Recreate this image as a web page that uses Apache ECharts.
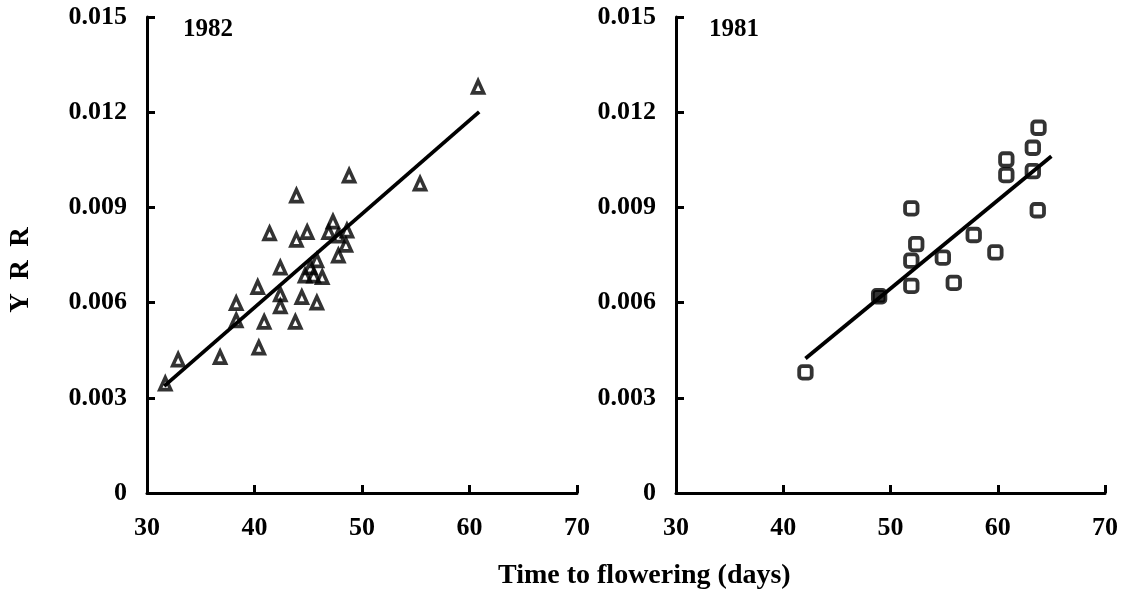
<!DOCTYPE html>
<html>
<head>
<meta charset="utf-8">
<script src="https://cdn.jsdelivr.net/npm/echarts@6/dist/echarts.min.js"></script>
<style>
html,body{margin:0;padding:0;background:#fff;}
#chart{width:1121px;height:590px;}
</style>
</head>
<body>
<div id="chart"></div>
<script>
// ---- Data ----
var panelTitles = ['1982', '1981'];
var yTickLabels = ['0', '0.003', '0.006', '0.009', '0.012', '0.015'];
var xTickLabels = ['30', '40', '50', '60', '70'];
var xAxisTitle = 'Time to flowering (days)';
var yAxisTitle = 'Y  R  R';

// 1982 (triangles)
var days1982 = [31.7, 32.9, 36.8, 40.4, 38.3, 38.3, 40.9, 43.8, 40.3, 42.4, 42.4, 42.4, 44.4, 45.8, 41.4, 43.9, 43.9, 44.9, 44.7, 45.5, 45.8, 46.3, 45.2, 46.9, 47.3, 47.8, 48.6, 48.5, 47.8, 48.8, 55.4, 60.8];
var yrr1982  = [0.00345, 0.0042, 0.00428, 0.00458, 0.00598, 0.00544, 0.00539, 0.00539, 0.00649, 0.00626, 0.00588, 0.0071, 0.00617, 0.006, 0.00818, 0.00937, 0.00798, 0.00822, 0.00685, 0.00685, 0.00733, 0.0068, 0.00711, 0.00822, 0.00855, 0.00811, 0.00827, 0.00782, 0.00748, 0.01, 0.00975, 0.0128];
var fit1982X = [31.6, 60.9];
var fit1982Y = [0.00337, 0.01201];

// 1981 (squares)
var days1981 = [42.07, 48.94, 51.94, 51.94, 52.4, 51.94, 54.88, 55.9, 57.76, 59.78, 60.8, 60.8, 63.27, 63.27, 63.8, 63.73];
var yrr1981  = [0.0038, 0.0062, 0.00653, 0.00732, 0.00784, 0.00897, 0.00742, 0.00662, 0.00813, 0.00758, 0.01051, 0.01002, 0.01088, 0.01014, 0.01151, 0.00891];
var filled1981Index = 1;
var fit1981X = [42.07, 65.0];
var fit1981Y = [0.00424, 0.01061];

// ---- Build ----
var FONT = '"Liberation Serif", "Times New Roman", serif';
var INK = '#000';

function pairs(xs, ys) { return xs.map(function (x, i) { return [x, ys[i]]; }); }

function yLabel(v) {
  var idx = Math.round(v / 0.003);
  return yTickLabels[idx] !== undefined ? yTickLabels[idx] : '';
}
function xLabel(v) {
  var idx = Math.round((v - 30) / 10);
  return xTickLabels[idx] !== undefined ? xTickLabels[idx] : '';
}

function makeX(gi) {
  return {
    type: 'value', gridIndex: gi, min: 30, max: 70, interval: 10,
    axisLine: { show: true, onZero: false, lineStyle: { color: INK, width: 3 } },
    axisTick: { show: true, inside: true, length: 8, lineStyle: { color: INK, width: 3 } },
    axisLabel: { margin: 22, color: INK, fontFamily: FONT, fontWeight: 'bold', fontSize: 26, formatter: xLabel },
    splitLine: { show: false }
  };
}
function makeY(gi) {
  return {
    type: 'value', gridIndex: gi, min: 0, max: 0.015, interval: 0.003,
    axisLine: { show: true, onZero: false, lineStyle: { color: INK, width: 3 } },
    axisTick: { show: true, inside: true, length: 8, lineStyle: { color: INK, width: 3 } },
    axisLabel: { margin: 20, color: INK, fontFamily: FONT, fontWeight: 'bold', fontSize: 26, formatter: yLabel },
    splitLine: { show: false }
  };
}

var sq81 = pairs(days1981, yrr1981).map(function (p, i) {
  return i === filled1981Index ? { value: p, itemStyle: { color: INK } } : { value: p };
});

var chart = echarts.init(document.getElementById('chart'), null, { renderer: 'canvas' });
chart.setOption({
  backgroundColor: '#fff',
  animation: false,
  grid: [
    { left: 147, top: 17, width: 430, height: 476 },
    { left: 676, top: 17, width: 431, height: 476 }
  ],
  xAxis: [makeX(0), makeX(1)],
  yAxis: [makeY(0), makeY(1)],
  series: [
    {
      type: 'line', xAxisIndex: 0, yAxisIndex: 0, data: pairs(fit1982X, fit1982Y),
      symbol: 'none', lineStyle: { color: INK, width: 3.8 }, z: 3
    },
    {
      type: 'scatter', xAxisIndex: 0, yAxisIndex: 0, data: pairs(days1982, yrr1982),
      symbol: 'triangle', symbolSize: [11, 12],
      itemStyle: { color: 'rgba(0,0,0,0)', borderColor: INK, borderWidth: 3.6 }, z: 4
    },
    {
      type: 'line', xAxisIndex: 1, yAxisIndex: 1, data: pairs(fit1981X, fit1981Y),
      symbol: 'none', lineStyle: { color: INK, width: 3.8 }, z: 3
    },
    {
      type: 'scatter', xAxisIndex: 1, yAxisIndex: 1, data: sq81,
      symbol: 'roundRect', symbolSize: 12.5,
      itemStyle: { color: 'rgba(0,0,0,0)', borderColor: INK, borderWidth: 3.8 }, z: 4
    }
  ],
  graphic: [
    { type: 'text', left: 183, top: 17, style: { text: panelTitles[0], font: 'bold 25px ' + FONT, fill: INK } },
    { type: 'text', left: 709, top: 17, style: { text: panelTitles[1], font: 'bold 25px ' + FONT, fill: INK } },
    { type: 'text', left: 498, top: 562, style: { text: xAxisTitle, font: 'bold 28px ' + FONT, fill: INK } },
    { type: 'text', x: 21, y: 270, rotation: Math.PI / 2,
      style: { text: yAxisTitle, font: 'bold 27px ' + FONT, fill: INK, align: 'center', verticalAlign: 'middle' } }
  ]
});
</script>
</body>
</html>
